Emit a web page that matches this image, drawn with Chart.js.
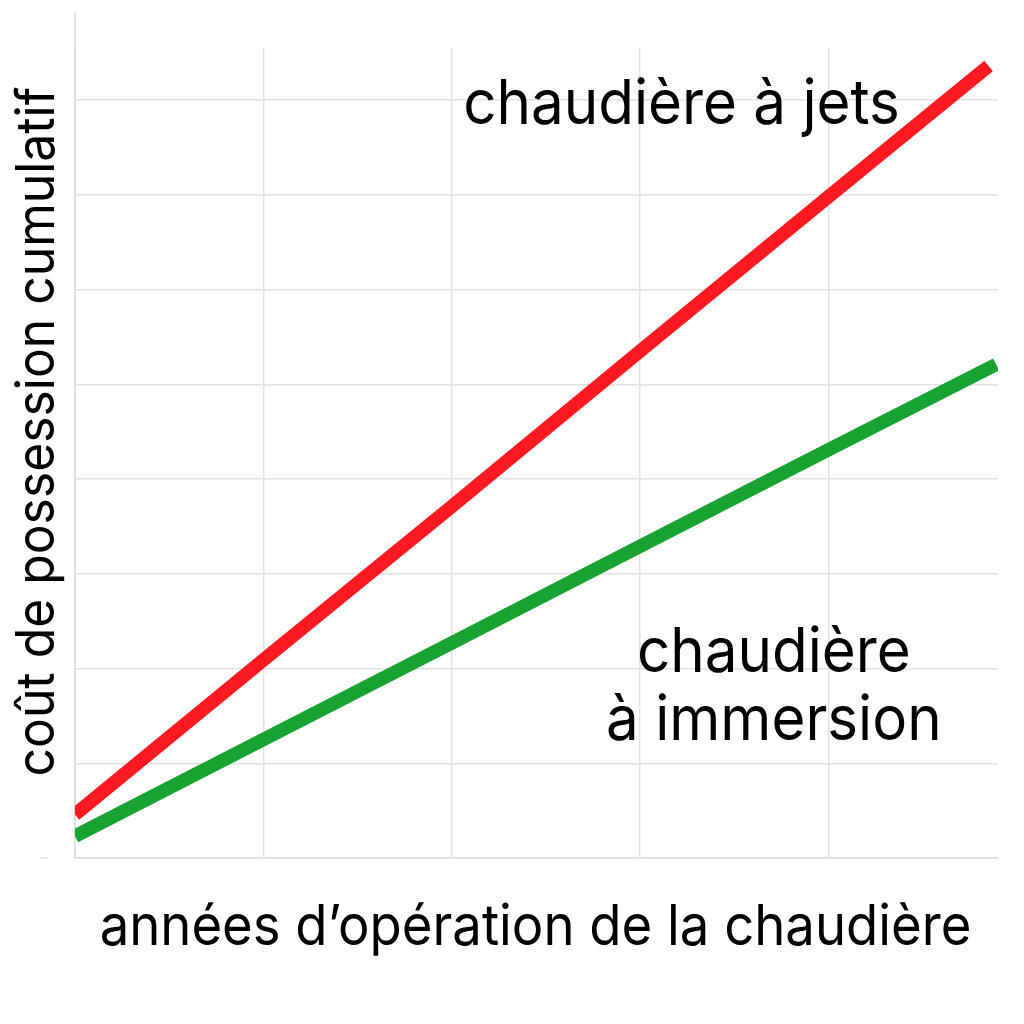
<!DOCTYPE html>
<html>
<head>
<meta charset="utf-8">
<script src="https://cdn.jsdelivr.net/npm/chart.js@4/dist/chart.umd.min.js"></script>
<style>
html,body{margin:0;padding:0;background:#fff;}
#wrap{width:1024px;height:1024px;}
</style>
</head>
<body>
<div id="wrap"><canvas id="c" width="1024" height="1024"></canvas></div>
<script>
// Data
const years = [0, 1, 2, 3, 4, 4.85];
const yearsImmersion = [0, 1, 2, 3, 4, 4.89];
const jetCost = [0.46, 2.09, 3.71, 5.35, 6.98, 8.36];
const immersionCost = [0.23, 1.25, 2.27, 3.29, 4.31, 5.21];
const xTicks = [0, 1, 2, 3, 4];
const yTicks = [0, 1, 2, 3, 4, 5, 6, 7, 8];
const xTitle = "années d\u2019opération de la chaudière";
const yTitle = "coût de possession cumulatif";
const jetLabel = ["chaudière à jets"];
const immersionLabel = ["chaudière", "à immersion"];

const FONT = "Inter, Roboto, 'Liberation Sans', sans-serif";
const SQUASH = 0.94;

const textPlugin = {
  id: 'texts',
  afterDraw(chart) {
    const {ctx, scales:{x, y}, chartArea} = chart;
    ctx.save();
    // extend y axis line upward
    ctx.strokeStyle = '#dcdcdc';
    ctx.lineWidth = 1.5;
    ctx.beginPath();
    ctx.moveTo(chartArea.left, chartArea.top);
    ctx.lineTo(chartArea.left, y.getPixelForValue(8.93));
    ctx.stroke();
    // small tick at bottom-left
    ctx.beginPath();
    ctx.moveTo(chartArea.left - 35, chartArea.bottom);
    ctx.lineTo(chartArea.left - 27, chartArea.bottom);
    ctx.stroke();

    ctx.fillStyle = '#000';
    ctx.textAlign = 'center';
    ctx.textBaseline = 'alphabetic';
    function drawText(lines, cx, baseY, size, sx, lh) {
      ctx.font = size + 'px ' + FONT;
      lines.forEach((t, i) => {
        ctx.save();
        ctx.translate(cx, baseY + i * lh);
        ctx.scale(sx, 1);
        ctx.fillText(t, 0, 0);
        ctx.restore();
      });
    }
    // annotations anchored to data coords
    drawText(jetLabel, x.getPixelForValue(3.22), y.getPixelForValue(7.75), 62, SQUASH, 0);
    drawText(immersionLabel, x.getPixelForValue(3.71), y.getPixelForValue(1.96), 62, SQUASH, 68);
    // x title
    drawText([xTitle], (chartArea.left + chartArea.right) / 2 - 1, chartArea.bottom + 87, 56, SQUASH, 0);
    // y title rotated
    ctx.save();
    ctx.translate(chartArea.left - 21, y.getPixelForValue(4.5));
    ctx.rotate(-Math.PI / 2);
    ctx.font = '53px ' + FONT;
    ctx.scale(SQUASH, 1);
    ctx.fillText(yTitle, 0, 0);
    ctx.restore();
    ctx.restore();
  }
};

new Chart(document.getElementById('c'), {
  type: 'line',
  data: {
    datasets: [
      {
        label: jetLabel.join(' '),
        data: years.map((v, i) => ({x: v, y: jetCost[i]})),
        borderColor: '#fe1a20',
        borderWidth: 13.5,
        borderCapStyle: 'butt',
        pointRadius: 0,
        tension: 0,
        fill: false
      },
      {
        label: immersionLabel.join(' '),
        data: yearsImmersion.map((v, i) => ({x: v, y: immersionCost[i]})),
        borderColor: '#17a232',
        borderWidth: 13.5,
        borderCapStyle: 'butt',
        pointRadius: 0,
        tension: 0,
        fill: false
      }
    ]
  },
  options: {
    responsive: false,
    animation: false,
    devicePixelRatio: 1,
    layout: {padding: {left: 75, right: 26, top: 48, bottom: 166}},
    plugins: {legend: {display: false}, tooltip: {enabled: false}},
    scales: {
      x: {
        type: 'linear', min: 0, max: 4.9,
        afterBuildTicks: (s) => { s.ticks = xTicks.map(v => ({value: v})); },
        ticks: {display: false},
        grid: {color: '#e2e2e2', lineWidth: 1.5, drawTicks: false},
        border: {display: true, color: '#dcdcdc', width: 1.5}
      },
      y: {
        type: 'linear', min: 0, max: 8.55,
        afterBuildTicks: (s) => { s.ticks = yTicks.map(v => ({value: v})); },
        ticks: {display: false},
        grid: {color: '#e2e2e2', lineWidth: 1.5, drawTicks: false},
        border: {display: true, color: '#dcdcdc', width: 1.5}
      }
    }
  },
  plugins: [textPlugin]
});
</script>
</body>
</html>
